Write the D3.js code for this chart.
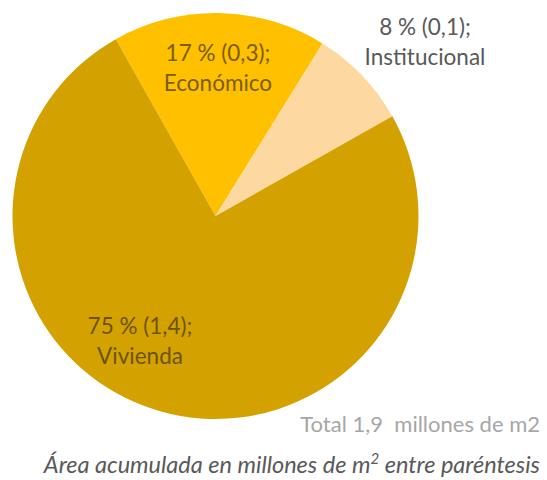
<!DOCTYPE html>
<html>
<head>
<meta charset="utf-8">
<script src="https://cdn.jsdelivr.net/npm/d3@7"></script>
<style>
  html, body { margin: 0; padding: 0; background: #fff; }
  svg { display: block; }
  text { font-family: Lato, "Open Sans", sans-serif; }
</style>
</head>
<body>
<svg id="chart" width="547" height="480"></svg>
<script>
// Land use shares (percent) and accumulated area (millions of m2)
const categories = ["Económico", "Institucional", "Vivienda"];
const percents = [17, 8, 75];
const areas = ["0,3", "0,1", "1,4"];
const colors = ["#FFC000", "#FDD9A1", "#D4A200"];
const totalLabel = "Total 1,9  millones de m2";

const svg = d3.select("#chart");
const cx = 215.5, cy = 216, r = 203;

const pie = d3.pie()
  .sort(null)
  .value(d => d.pct)
  .startAngle(-29.4 * Math.PI / 180)
  .endAngle((360 - 29.4) * Math.PI / 180);

const data = categories.map((c, i) => ({ name: c, pct: percents[i], area: areas[i], color: colors[i] }));
const arcs = pie(data);
const arc = d3.arc().innerRadius(0).outerRadius(r);

const g = svg.append("g").attr("transform", `translate(${cx},${cy})`);
g.selectAll("path.slice")
  .data(arcs)
  .join("path")
  .attr("class", "slice")
  .attr("d", arc)
  .attr("fill", d => d.data.color);

// Label anchor points; Institucional sits outside its slice
const labelPos = {
  "Económico": { x: 218, y: 61, fill: "#7a5e00" },
  "Institucional": { x: 425, y: 35, fill: "#595959" },
  "Vivienda": { x: 140, y: 334, fill: "#6b5300" }
};
const lineGap = 30;

arcs.forEach(d => {
  const p = labelPos[d.data.name];
  const t = svg.append("text")
    .attr("text-anchor", "middle")
    .attr("font-size", 22.5)
    .attr("fill", p.fill);
  t.append("tspan").attr("x", p.x).attr("y", p.y).text(`${d.data.pct} % (${d.data.area});`);
  t.append("tspan").attr("x", p.x).attr("y", p.y + lineGap).text(d.data.name);
});

svg.append("text")
  .attr("x", 540).attr("y", 432)
  .attr("text-anchor", "end")
  .attr("font-size", 22)
  .attr("fill", "#a6a6a6")
  .style("white-space", "pre")
  .text(totalLabel);

const note = svg.append("text")
  .attr("x", 540).attr("y", 473)
  .attr("text-anchor", "end")
  .attr("font-size", 23.5)
  .attr("font-style", "italic")
  .attr("fill", "#595959");
note.append("tspan").text("Área acumulada en millones de m");
note.append("tspan").attr("baseline-shift", "super").attr("font-size", 15).text("2");
note.append("tspan").text(" entre paréntesis");
</script>
</body>
</html>
